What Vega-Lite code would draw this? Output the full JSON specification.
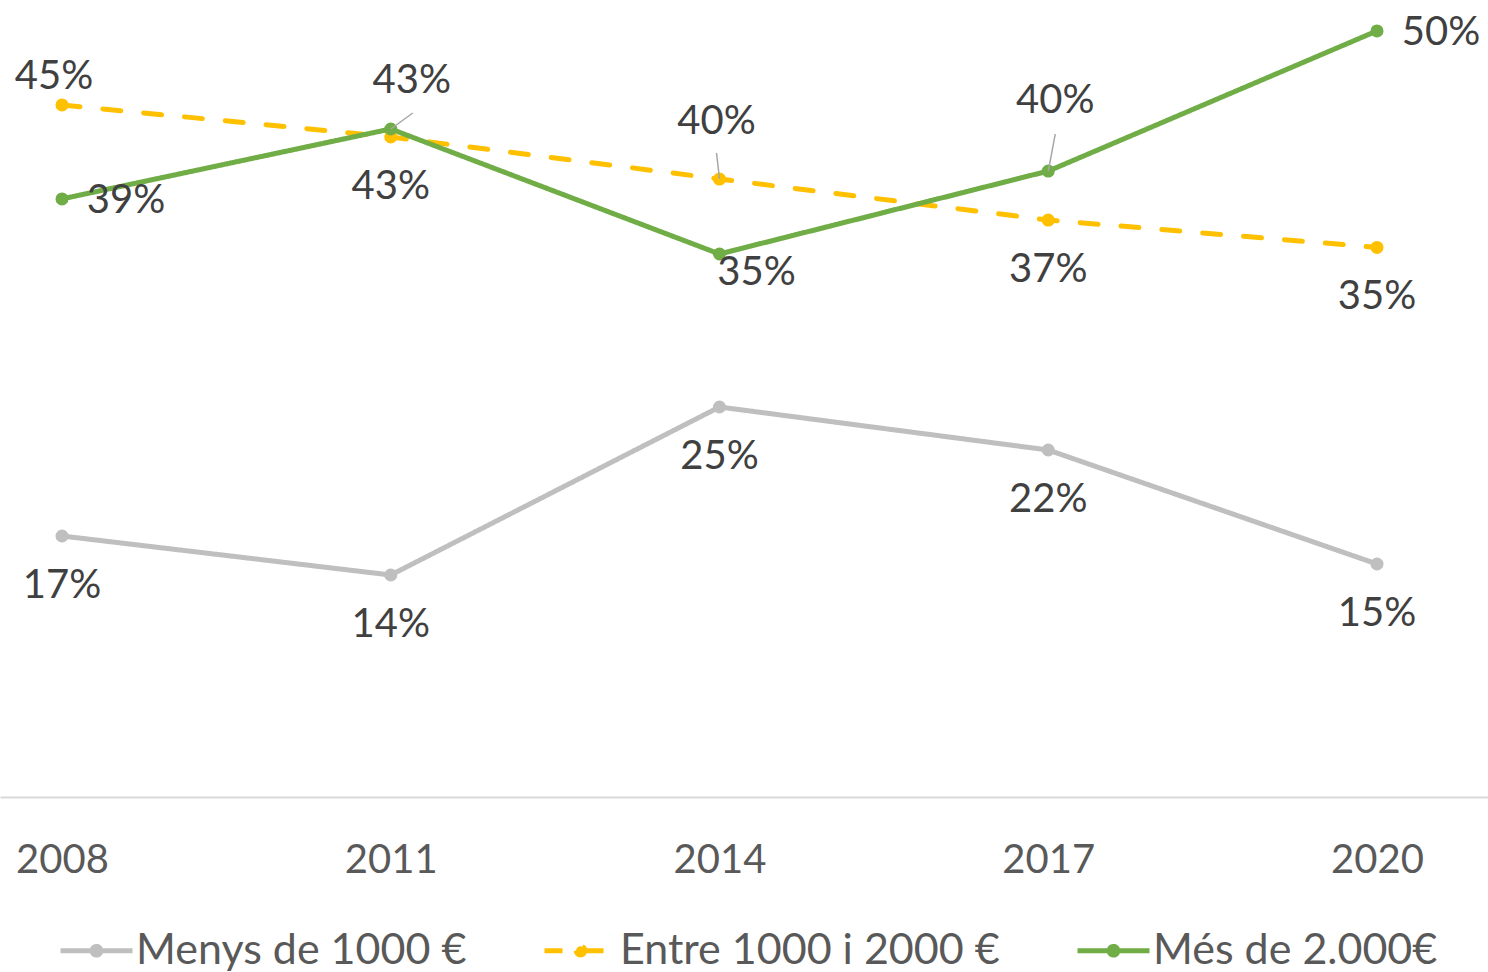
{
  "$schema": "https://vega.github.io/schema/vega-lite/v6.json",
  "width": 1488,
  "height": 797,
  "autosize": {"type": "none"},
  "padding": {"left": 0, "top": 0, "right": 0, "bottom": 175},
  "background": "white",
  "config": {
    "view": {"stroke": null},
    "font": "Lato",
    "text": {"font": "Lato"}
  },
  "data": {
    "values": [
      {"year": 2008, "series": "Menys de 1000 €", "value": 0.166},
      {"year": 2011, "series": "Menys de 1000 €", "value": 0.1405},
      {"year": 2014, "series": "Menys de 1000 €", "value": 0.2503},
      {"year": 2017, "series": "Menys de 1000 €", "value": 0.2222},
      {"year": 2020, "series": "Menys de 1000 €", "value": 0.1477},
      {"year": 2008, "series": "Entre 1000 i 2000 €", "value": 0.4477},
      {"year": 2011, "series": "Entre 1000 i 2000 €", "value": 0.4268},
      {"year": 2014, "series": "Entre 1000 i 2000 €", "value": 0.3993},
      {"year": 2017, "series": "Entre 1000 i 2000 €", "value": 0.3725},
      {"year": 2020, "series": "Entre 1000 i 2000 €", "value": 0.3546},
      {"year": 2008, "series": "Més de 2.000€", "value": 0.3863},
      {"year": 2011, "series": "Més de 2.000€", "value": 0.432},
      {"year": 2014, "series": "Més de 2.000€", "value": 0.3503},
      {"year": 2017, "series": "Més de 2.000€", "value": 0.4045},
      {"year": 2020, "series": "Més de 2.000€", "value": 0.4961}
    ]
  },
  "encoding": {
    "x": {
      "field": "year",
      "type": "quantitative",
      "scale": {"domain": [2007.434, 2021.013], "nice": false, "zero": false},
      "axis": {
        "title": null,
        "values": [2008, 2011, 2014, 2017, 2020],
        "format": "d",
        "grid": false,
        "ticks": false,
        "labelFont": "Lato",
        "labelFontSize": 40,
        "labelColor": "#595959",
        "labelPadding": 43,
        "labelFlush": false,
        "labelOverlap": false,
        "domainColor": "#d9d9d9",
        "domainWidth": 2
      }
    },
    "y": {
      "field": "value",
      "type": "quantitative",
      "scale": {"domain": [-0.00458, 0.5163], "nice": false, "zero": false},
      "axis": null
    }
  },
  "layer": [
    {
      "mark": {"type": "line", "strokeWidth": 5, "strokeCap": "round"},
      "encoding": {
        "color": {
          "field": "series",
          "type": "nominal",
          "scale": {
            "domain": ["Menys de 1000 €", "Entre 1000 i 2000 €", "Més de 2.000€"],
            "range": ["#BFBFBF", "#FFC000", "#70AD47"]
          },
          "legend": {
            "title": null,
            "orient": "none",
            "direction": "horizontal",
            "legendX": 58,
            "legendY": 912,
            "labelFont": "Lato",
            "labelFontSize": 43,
            "labelColor": "#595959",
            "labelOffset": 1,
            "labelLimit": 600,
            "columnPadding": 67,
            "symbolType": "M-1,0L1,0M-0.12,0A0.12,0.12 0 1,0 0.12,0A0.12,0.12 0 1,0 -0.12,0M-0.05,0A0.05,0.05 0 1,0 0.05,0A0.05,0.05 0 1,0 -0.05,0",
            "symbolSize": 5184,
            "symbolStrokeWidth": 5
          }
        },
        "strokeDash": {
          "field": "series",
          "type": "nominal",
          "scale": {
            "domain": ["Menys de 1000 €", "Entre 1000 i 2000 €", "Més de 2.000€"],
            "range": [[1, 0], [18, 23], [1, 0]]
          },
          "legend": {
            "title": null,
            "orient": "none",
            "direction": "horizontal",
            "legendX": 58,
            "legendY": 912,
            "labelFont": "Lato",
            "labelFontSize": 43,
            "labelColor": "#595959",
            "labelOffset": 1,
            "labelLimit": 600,
            "columnPadding": 67,
            "symbolType": "M-1,0L1,0M-0.12,0A0.12,0.12 0 1,0 0.12,0A0.12,0.12 0 1,0 -0.12,0M-0.05,0A0.05,0.05 0 1,0 0.05,0A0.05,0.05 0 1,0 -0.05,0",
            "symbolSize": 5184,
            "symbolStrokeWidth": 5
          }
        }
      }
    },
    {
      "mark": {"type": "point", "filled": true, "size": 170, "opacity": 1},
      "encoding": {
        "color": {"field": "series", "type": "nominal", "legend": null}
      }
    },
    {
      "transform": [{"filter": "(datum.series === 'Més de 2.000€' && datum.year === 2011)"}],
      "mark": {"type": "rule", "color": "#a6a6a6", "strokeWidth": 1.5, "x2Offset": 22, "y2Offset": -16},
      "encoding": {"x2": {"field": "year"}, "y2": {"field": "value"}}
    },
    {
      "transform": [{"filter": "(datum.series === 'Més de 2.000€' && datum.year === 2017)"}],
      "mark": {"type": "rule", "color": "#a6a6a6", "strokeWidth": 1.5, "x2Offset": 7, "y2Offset": -37},
      "encoding": {"x2": {"field": "year"}, "y2": {"field": "value"}}
    },
    {
      "transform": [{"filter": "(datum.series === 'Entre 1000 i 2000 €' && datum.year === 2014)"}],
      "mark": {"type": "rule", "color": "#a6a6a6", "strokeWidth": 1.5, "x2Offset": -3, "y2Offset": -26},
      "encoding": {"x2": {"field": "year"}, "y2": {"field": "value"}}
    },
    {
      "transform": [{"filter": "datum.series === 'Menys de 1000 €' || (datum.series === 'Entre 1000 i 2000 €' && (datum.year === 2011 || datum.year === 2017 || datum.year === 2020))"}],
      "mark": {"type": "text", "fontSize": 40, "font": "Lato", "color": "#404040", "align": "center", "baseline": "middle", "dy": 50},
      "encoding": {"text": {"field": "value", "type": "quantitative", "format": ".0%"}}
    },
    {
      "transform": [{"filter": "datum.series === 'Més de 2.000€' && (datum.year === 2008 || datum.year === 2020)"}],
      "mark": {"type": "text", "fontSize": 40, "font": "Lato", "color": "#404040", "align": "center", "baseline": "middle", "dx": 64, "dy": 2},
      "encoding": {"text": {"field": "value", "type": "quantitative", "format": ".0%"}}
    },
    {
      "transform": [{"filter": "datum.series === 'Més de 2.000€' && datum.year === 2014"}],
      "mark": {"type": "text", "fontSize": 40, "font": "Lato", "color": "#404040", "align": "center", "baseline": "middle", "dx": 37, "dy": 19},
      "encoding": {"text": {"field": "value", "type": "quantitative", "format": ".0%"}}
    },
    {
      "transform": [{"filter": "datum.series === 'Més de 2.000€' && datum.year === 2011"}],
      "mark": {"type": "text", "fontSize": 40, "font": "Lato", "color": "#404040", "align": "center", "baseline": "middle", "dx": 21, "dy": -48},
      "encoding": {"text": {"field": "value", "type": "quantitative", "format": ".0%"}}
    },
    {
      "transform": [{"filter": "datum.series === 'Més de 2.000€' && datum.year === 2017"}],
      "mark": {"type": "text", "fontSize": 40, "font": "Lato", "color": "#404040", "align": "center", "baseline": "middle", "dx": 7, "dy": -70},
      "encoding": {"text": {"field": "value", "type": "quantitative", "format": ".0%"}}
    },
    {
      "transform": [{"filter": "datum.series === 'Entre 1000 i 2000 €' && datum.year === 2008"}],
      "mark": {"type": "text", "fontSize": 40, "font": "Lato", "color": "#404040", "align": "center", "baseline": "middle", "dx": -8, "dy": -28},
      "encoding": {"text": {"field": "value", "type": "quantitative", "format": ".0%"}}
    },
    {
      "transform": [{"filter": "datum.series === 'Entre 1000 i 2000 €' && datum.year === 2014"}],
      "mark": {"type": "text", "fontSize": 40, "font": "Lato", "color": "#404040", "align": "center", "baseline": "middle", "dx": -3, "dy": -57},
      "encoding": {"text": {"field": "value", "type": "quantitative", "format": ".0%"}}
    }
  ]
}
